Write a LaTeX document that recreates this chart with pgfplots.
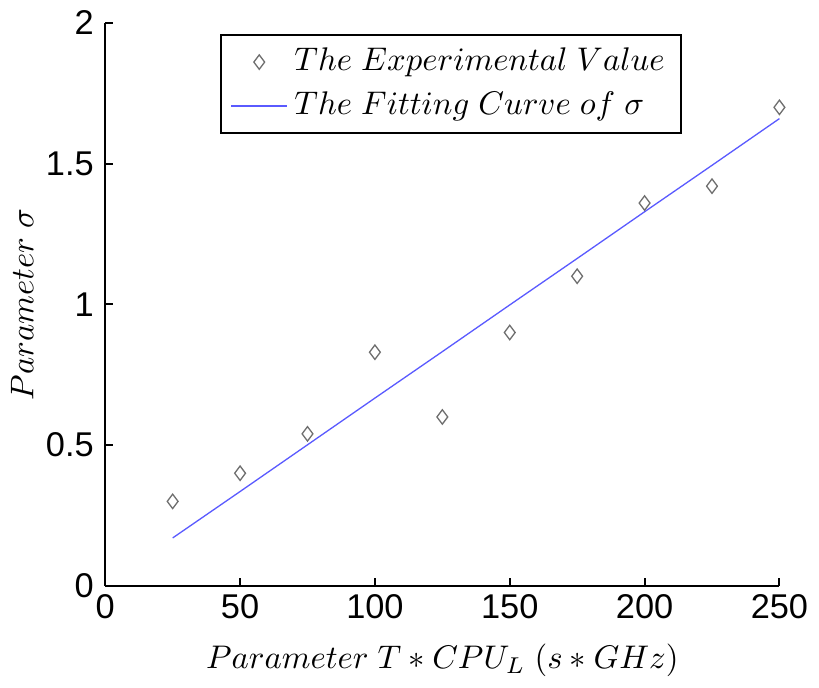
\documentclass[border=0pt]{standalone}
\usepackage{pgfplots}
\pgfplotsset{compat=1.18}
\usepackage{fontspec}
\setmainfont{Liberation Sans}
\definecolor{markgray}{RGB}{110,110,110}
\definecolor{fitblue}{RGB}{90,90,255}
\begin{document}
\begin{tikzpicture}
\begin{axis}[
    width=206pt, height=172pt,
    scale only axis,
    xmin=0, xmax=250, ymin=0, ymax=2,
    xtick={0,50,...,250},
    ytick={0,0.5,1,1.5,2},
    axis lines*=left,
    axis line style={line width=0.6pt},
    tick align=inside,
    major tick length=2.4pt,
    tick style={black, line width=0.6pt},
    /pgf/number format/assume math mode=true,
    ticklabel style={font=\fontsize{10.5}{12}\selectfont},
    xticklabel style={yshift=1pt},
    xlabel={$Parameter\ T*CPU_L\ (s*GHz)$},
    ylabel={$Parameter\ \sigma$},
    label style={font=\fontsize{10}{12}\selectfont},
    xlabel style={yshift=-1pt},
    ylabel style={yshift=-3pt},
    legend style={at={(0.17,0.98)}, anchor=north west,
        font=\fontsize{10}{12}\selectfont, draw=black, line width=0.6pt,
        row sep=1pt, inner xsep=3pt},
    legend cell align=left,
    clip=false,
]
\addplot[only marks, mark=diamond, mark size=2.2pt, mark options={draw=markgray, fill=white, line width=0.4pt}]
coordinates {
    (25,0.30) (50,0.40) (75,0.54) (100,0.83) (125,0.60)
    (150,0.90) (175,1.10) (200,1.36) (225,1.42) (250,1.70)
};
\addlegendentry{$The\ Experimental\ Value$}
\addplot[fitblue, line width=0.4pt, mark=none]
coordinates {
    (25,0.170) (50,0.335) (75,0.501) (100,0.667) (125,0.832)
    (150,0.998) (175,1.163) (200,1.329) (225,1.494) (250,1.660)
};
\addlegendentry{$The\ Fitting\ Curve\ of\ \sigma$}
\end{axis}
\end{tikzpicture}
\end{document}
